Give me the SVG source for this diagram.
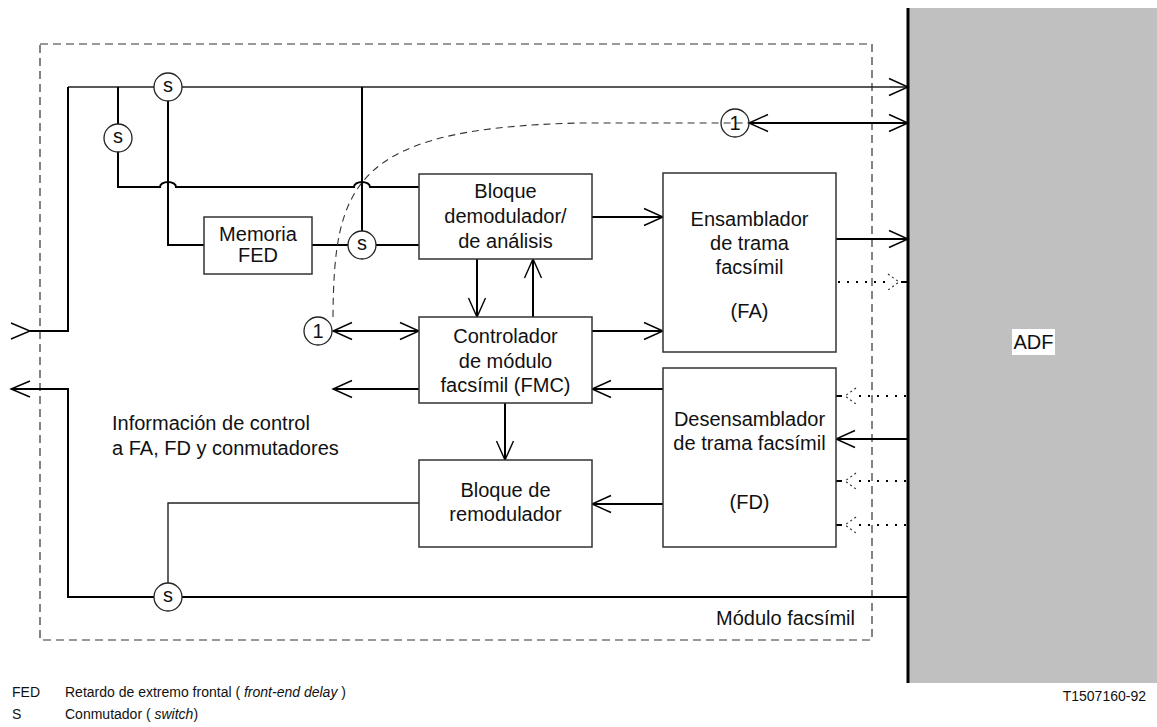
<svg xmlns="http://www.w3.org/2000/svg" width="1157" height="727" viewBox="0 0 1157 727">
<style>
text{font-family:"Liberation Sans",Arial,sans-serif;fill:#111}
.t20{font-size:20px;text-anchor:middle}
.box{fill:#fff;stroke:#333;stroke-width:1.5}
.sw{fill:#fff;stroke:#222;stroke-width:1.3}
.ln{fill:none;stroke:#000;stroke-width:2}
.thin{fill:none;stroke:#222;stroke-width:1.4}
.dash{fill:none;stroke:#333;stroke-width:1.1;stroke-dasharray:7 5}
.dot{fill:none;stroke:#000;stroke-width:2;stroke-dasharray:2 7}
.dotc{fill:none;stroke:#333;stroke-width:1.2;stroke-dasharray:2 3}
.arr{marker-end:url(#ah)}
</style>
<defs>
<marker id="ah" viewBox="0 0 19 18" refX="19" refY="9" markerWidth="19" markerHeight="18" markerUnits="userSpaceOnUse" orient="auto-start-reverse" overflow="visible">
<path d="M0,0.5 L19,9 L0,17.5" fill="none" stroke="#000" stroke-width="1.4"/>
</marker>
</defs>
<g id="adf">
<rect x="908" y="8" width="249" height="675" fill="#c0c0c0"/>
<line x1="908" y1="8" x2="908" y2="683" stroke="#000" stroke-width="3"/>
<rect x="1012" y="329" width="43" height="26" fill="#fff"/>
<text x="1033.5" y="349" class="t20">ADF</text>
</g>
<g id="module-boundary">
<rect x="40" y="44" width="832" height="596" fill="none" stroke="#333" stroke-width="1.2" stroke-dasharray="8 5"/>
<text x="855" y="625" style="font-size:20px;text-anchor:end">Módulo facsímil</text>
</g>
<g id="connectors">
<path class="thin" d="M68 87 H154 M182 87 H890"/>
<path class="arr" d="M890 87 H908" stroke="#000" stroke-width="1.4"/>
<path class="ln" d="M30 331 H68 V87"/>
<path d="M11 323 L30 331 L11 339" fill="none" stroke="#000" stroke-width="1.4"/>
<path class="ln" d="M11 389 H68 V597 H154 M182 597 H908"/>
<path d="M30 381 L11 389 L30 397" fill="none" stroke="#000" stroke-width="1.4"/>
<path class="ln" d="M118 87 V124 M118 152 V187 H160 A8 5 0 0 1 176 187 H354 A8 5 0 0 1 370 187 H419"/>
<path class="ln" d="M168 101 V245 H204"/>
<path class="ln" d="M312 245 H348 M376 245 H419"/>
<path class="ln" d="M362 87 V231"/>
<path class="dash" d="M333 317 C334 185 352 128 580 123 H749"/>
<path class="ln" d="M749 123 H908" marker-start="url(#ah)" marker-end="url(#ah)"/>
<path class="ln" d="M333 331 H419" marker-start="url(#ah)" marker-end="url(#ah)"/>
<path class="ln arr" d="M592 217 H663"/>
<path class="ln arr" d="M477 259 V317"/>
<path class="ln arr" d="M533 317 V259"/>
<path class="ln arr" d="M592 331 H663"/>
<path class="ln arr" d="M419 389 H333"/>
<path class="ln arr" d="M663 389 H592"/>
<path class="ln arr" d="M505 403 V460"/>
<path class="ln arr" d="M663 504 H592"/>
<path class="thin" d="M419 503 H168 V583"/>
<path class="ln arr" d="M836 239 H908"/>
<path class="ln arr" d="M908 439 H836"/>
<path class="dot" d="M838 282 H886"/>
<path class="dotc" d="M888 274 L899 282 L888 290"/>
<path class="ln" d="M901 282 H908"/>
<path class="dot" d="M906 396 H858 M906 481 H858 M906 525 H858"/>
<path class="dotc" d="M856 388 L845 396 L856 404 M856 473 L845 481 L856 489 M856 517 L845 525 L856 533"/>
<path class="ln" d="M836 396 H842 M836 481 H842 M836 525 H842"/>
</g>
<g id="sw-top"><circle class="sw" cx="168" cy="87" r="14"/><text x="168" y="92" class="t20">s</text></g>
<g id="sw-left"><circle class="sw" cx="118" cy="138" r="14"/><text x="118" y="143" class="t20">s</text></g>
<g id="sw-mid"><circle class="sw" cx="362" cy="245" r="14"/><text x="362" y="250" class="t20">s</text></g>
<g id="sw-bottom"><circle class="sw" cx="168" cy="597" r="14"/><text x="168" y="602" class="t20">s</text></g>
<g id="ref1-top"><circle cx="735" cy="123" r="14" fill="none" stroke="#222" stroke-width="1.3"/><text x="735" y="130" class="t20">1</text></g>
<g id="ref1-left"><circle class="sw" cx="318" cy="331" r="14"/><text x="318" y="338" class="t20">1</text></g>
<g id="memoria-fed">
<rect class="box" x="204" y="217" width="108" height="57"/>
<text x="258" y="241" class="t20">Memoria</text>
<text x="258" y="262" class="t20">FED</text>
</g>
<g id="demodulador">
<rect class="box" x="419" y="174" width="173" height="85"/>
<text x="505.5" y="198" class="t20">Bloque</text>
<text x="505.5" y="223" class="t20">demodulador/</text>
<text x="505.5" y="248" class="t20">de análisis</text>
</g>
<g id="fa">
<rect class="box" x="663" y="173" width="173" height="179"/>
<text x="749.5" y="226" class="t20">Ensamblador</text>
<text x="749.5" y="250" class="t20">de trama</text>
<text x="749.5" y="274" class="t20">facsímil</text>
<text x="749.5" y="318" class="t20">(FA)</text>
</g>
<g id="fmc">
<rect class="box" x="419" y="317" width="173" height="86"/>
<text x="505.5" y="343" class="t20">Controlador</text>
<text x="505.5" y="368" class="t20">de módulo</text>
<text x="505.5" y="392" class="t20">facsímil (FMC)</text>
</g>
<g id="fd">
<rect class="box" x="663" y="368" width="173" height="179"/>
<text x="749.5" y="426" class="t20">Desensamblador</text>
<text x="749.5" y="450" class="t20">de trama facsímil</text>
<text x="749.5" y="509" class="t20">(FD)</text>
</g>
<g id="remodulador">
<rect class="box" x="419" y="460" width="173" height="87"/>
<text x="505.5" y="497" class="t20">Bloque de</text>
<text x="505.5" y="521" class="t20">remodulador</text>
</g>
<g id="control-info">
<text x="112" y="430" style="font-size:20px">Información de control</text>
<text x="112" y="455" style="font-size:20px">a FA, FD y conmutadores</text>
</g>
<g id="legend" style="font-size:14px">
<text x="12" y="697">FED</text>
<text x="65" y="697">Retardo de extremo frontal ( <tspan font-style="italic">front-end delay</tspan> )</text>
<text x="12" y="719">S</text>
<text x="65" y="719">Conmutador ( <tspan font-style="italic">switch</tspan>)</text>
<text x="1146" y="701" text-anchor="end">T1507160-92</text>
</g>
</svg>
